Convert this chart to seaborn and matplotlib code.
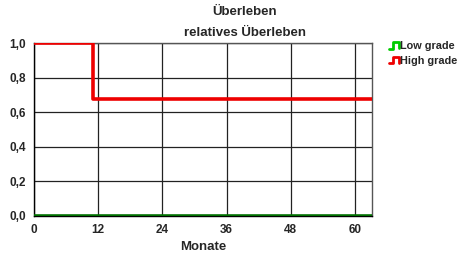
import pandas as pd
import numpy as np
import matplotlib
matplotlib.use('Agg')
import matplotlib.pyplot as plt
import seaborn as sns
from matplotlib.legend_handler import HandlerBase
from matplotlib.lines import Line2D

# Survival curves (months vs. relative survival)
groups = ['Low grade', 'Low grade', 'High grade', 'High grade', 'High grade']
months = [0, 63.2, 0, 11, 63.2]
survival = [0.0, 0.0, 1.0, 0.675, 0.675]

x_ticks = [0, 12, 24, 36, 48, 60]
y_ticks = [0.0, 0.2, 0.4, 0.6, 0.8, 1.0]
y_labels = ['0,0', '0,2', '0,4', '0,6', '0,8', '1,0']

line_colors = {'Low grade': '#007000', 'High grade': '#ee0000'}
legend_colors = {'Low grade': '#00cc00', 'High grade': '#ee0000'}

df = pd.DataFrame({'Gruppe': groups, 'Monate': months, 'Ueberleben': survival})

sns.set_style('white')
plt.rcParams['font.family'] = ['Liberation Sans', 'DejaVu Sans']
plt.rcParams['font.weight'] = 'bold'

fig = plt.figure(figsize=(4.61, 2.59), dpi=100)
ax = fig.add_axes([34 / 461, 1 - 216 / 259, 338 / 461, 173 / 259])

sns.lineplot(data=df, x='Monate', y='Ueberleben', hue='Gruppe',
             palette=line_colors, drawstyle='steps-post', estimator=None,
             linewidth=2.6, legend=False, ax=ax, zorder=3)

ax.set_xlim(0, 63.2)
ax.set_ylim(0, 1.0)
ax.set_xticks(x_ticks)
ax.set_xticklabels([str(t) for t in x_ticks], fontsize=8.5, fontweight='bold')
ax.set_yticks(y_ticks)
ax.set_yticklabels(y_labels, fontsize=8.5, fontweight='bold')
ax.tick_params(axis='both', direction='out', length=4, width=0.8, color='#333333', pad=1.5)
ax.grid(True, color='#222222', linewidth=0.9)
ax.set_axisbelow(True)
for side in ['left', 'bottom']:
    ax.spines[side].set_color('#000000')
    ax.spines[side].set_linewidth(1.0)
for side in ['top', 'right']:
    ax.spines[side].set_color('#555555')
    ax.spines[side].set_linewidth(1.0)
ax.set_xlabel('Monate', fontsize=9.5, fontweight='bold', labelpad=4)
ax.set_ylabel('')

fig.text(245 / 461, 1 - 12 / 259, 'Überleben', ha='center', va='center',
         fontsize=9.5, fontweight='bold')
fig.text(245 / 461, 1 - 33 / 259, 'relatives Überleben', ha='center', va='center',
         fontsize=9.5, fontweight='bold')


class StepHandler(HandlerBase):
    def create_artists(self, legend, orig_handle, xdescent, ydescent,
                       width, height, fontsize, trans):
        x0 = -xdescent
        y0 = -ydescent
        xs = [x0, x0 + width * 0.4, x0 + width * 0.4, x0 + width,
              x0 + width]
        ys = [y0, y0, y0 + height, y0 + height, y0 + height * 0.1]
        ln = Line2D(xs, ys, color=orig_handle.get_color(), linewidth=2.0,
                    transform=trans)
        return [ln]


handles = [Line2D([], [], color=legend_colors[g]) for g in ['Low grade', 'High grade']]
fig.legend(handles, ['Low grade', 'High grade'], handler_map={Line2D: StepHandler()},
           loc='upper left', bbox_to_anchor=(389 / 461, 1 - 41 / 259),
           frameon=False, handlelength=0.95, handleheight=0.6, handletextpad=0.1,
           borderpad=0, borderaxespad=0, labelspacing=0.45,
           prop={'weight': 'bold', 'size': 7.8})

fig.savefig('out.png', dpi=100)
